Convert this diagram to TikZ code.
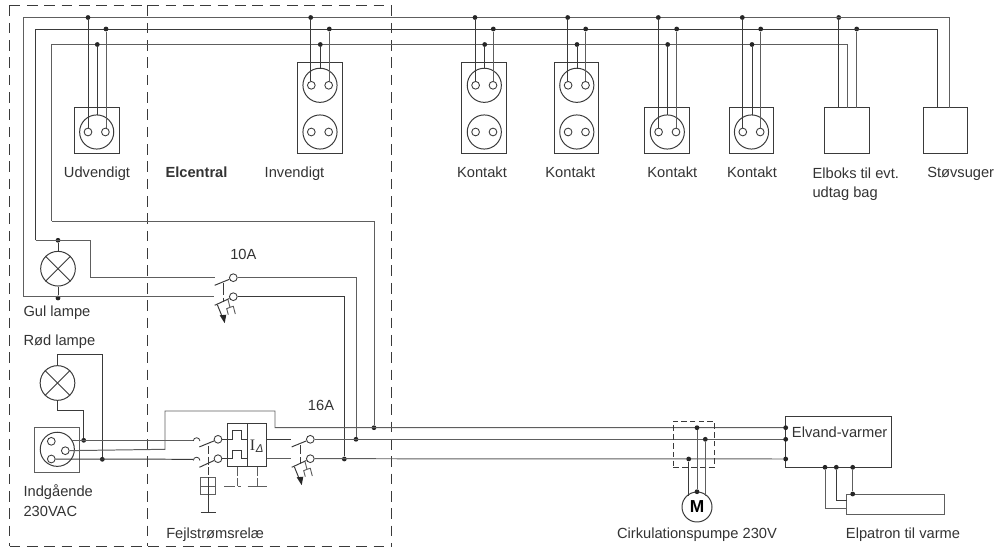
\documentclass[tikz,border=0pt]{standalone}
\usepackage{fontspec}
\setmainfont{Liberation Sans}
\definecolor{wa}{HTML}{3A3A3A}
\definecolor{wb}{HTML}{5E5E5E}
\definecolor{txt}{HTML}{333333}
\tikzset{
  wire/.style={line width=.74pt,color=wa,line join=miter},
  gwire/.style={line width=.74pt,color=wb,line join=miter},
  dot/.style={circle,fill=black!85,inner sep=0pt,minimum size=3.6pt},
  hole/.style={circle,draw=wa,fill=white,line width=.65pt,inner sep=0pt,minimum size=5.8pt},
  face/.style={circle,draw=wa,fill=none,line width=.74pt,inner sep=0pt,minimum size=25.6pt},
  lamp/.style={circle,draw=wa,fill=white,line width=.74pt,inner sep=0pt,minimum size=26pt},
  boxa/.style={draw=wa,line width=.74pt,inner sep=0pt,minimum width=33.5pt,minimum height=34.3pt},
  boxb/.style={draw=wa,line width=.74pt,inner sep=0pt,minimum width=33.5pt,minimum height=68.5pt},
  lbl/.style={font=\fontsize{11}{13}\selectfont,text=txt,inner sep=0pt,anchor=mid west},
  ctr/.style={font=\fontsize{11}{13}\selectfont,text=txt,inner sep=0pt,anchor=mid},
  bord/.style={line width=.74pt,color=wa,dash pattern=on 8pt off 5pt},
}
% single socket: name, box centre x, wire x L, C, R
\newcommand{\sockone}[5]{%
  \node[boxa] (#1) at (#2,130.8) {};
  \node[face] (#1f) at (#2,132) {};
  \node[hole] (#1l) at ($(#1f.center)+(-8.7,0)$) {};
  \node[hole] (#1r) at ($(#1f.center)+(8.7,0)$) {};
  \node[dot] (#1a) at (#3,17.5) {};
  \node[dot] (#1b) at (#4,44.5) {};
  \node[dot] (#1c) at (#5,29) {};
  \draw[wire] (#1a) -- (#3,128);
  \draw[wire] (#1b) -- (#4,115);
  \draw[gwire] (#1c) -- (#5,128);
}
% double socket
\newcommand{\socktwo}[5]{%
  \node[boxb] (#1) at (#2,108) {};
  \node[face] (#1f) at (#2+0.3,85.3) {};
  \node[hole] (#1l) at ($(#1f.center)+(-8.7,0)$) {};
  \node[hole] (#1r) at ($(#1f.center)+(8.7,0)$) {};
  \node[face] (#1g) at (#2+0.3,132) {};
  \node[hole] (#1m) at ($(#1g.center)+(-8.7,0)$) {};
  \node[hole] (#1n) at ($(#1g.center)+(8.7,0)$) {};
  \node[dot] (#1a) at (#3,17.5) {};
  \node[dot] (#1b) at (#4,44.5) {};
  \node[dot] (#1c) at (#5,29) {};
  \draw[wire] (#1a) -- (#3,81);
  \draw[wire] (#1b) -- (#4,68.3);
  \draw[gwire] (#1c) -- (#5,81);
}
% two-pole switch: name, circle x, top y, bottom y
\newcommand{\blades}[4]{%
  \node[hole] (#1t) at (#2,#3) {};
  \node[hole] (#1u) at (#2,#4) {};
  \draw[wire] (#2-18.6,#3+7.6) -- (#1t);
  \draw[wire] (#2-18.6,#4+8.6) -- (#1u);
}
\newcommand{\trip}[2]{%
  \draw[wire] (#1-16,#2+8) -- (#1-10.3,#2+22);
  \fill[black!85] (#1-13.6,#2+18.6) -- (#1-7,#2+18) -- (#1-8.6,#2+26.5) -- cycle;
  \draw[wb,line width=.7pt] (#1-5.3,#2+3) -- (#1-3.3,#2+10.6) -- (#1,#2+9.6) -- (#1+2,#2+17.3);
  \draw[wb,line width=.7pt] (#1-3.3,#2+10.6) -- (#1-6.6,#2+12) -- (#1-5,#2+18);
}
\usetikzlibrary{calc}
\begin{document}
\begin{tikzpicture}[x=.75pt,y=-.75pt]
\useasboundingbox (0,0) rectangle (1000,549);
% enclosure
\coordinate (bTL) at (9.5,5.5); \coordinate (bTR) at (391.5,5.5);
\coordinate (bBL) at (9.5,546); \coordinate (bBR) at (391.5,546);
\draw[bord] (bTL) -- (bTR);
\draw[bord] (bTR) -- (bBR);
\draw[bord] (bTL) -- (bBL);
\draw[bord] (bBL) -- (bBR);
\coordinate (mT) at (147.5,5.5); \coordinate (mB) at (147.5,546);
\draw[bord] (mT) -- (mB);
% buses
\coordinate (st1) at (949,108); \coordinate (st2) at (937.7,108); \coordinate (el3) at (847,108);
\coordinate (gulN) at (23.5,296.7); \coordinate (gulL) at (35.5,240.3);
\node[boxa] (elb) at (846.7,130.8) {};
\node[boxa] (stv) at (945.5,130.8) {};
\node[dot] (elba) at (838.7,17.5) {};
\node[dot] (elbc) at (856.7,29) {};
\draw[gwire] (gulN) -- (23.5,17.5) -- (949,17.5) -- (st1);
\draw[wire] (gulL) -- (35.5,29) -- (937.7,29) -- (st2);
\draw[gwire] (51.5,221) -- (51.5,44.5) -- (847,44.5) -- (el3);
\draw[wire] (elba) -- (838.7,108);
\draw[gwire] (elbc) -- (856.7,108);
% sockets
\sockone{ud}{96.7}{88}{97.3}{106}
\socktwo{inv}{319.7}{310.7}{320.3}{329.3}
\socktwo{k1}{484}{475}{484.7}{493.3}
\socktwo{k2}{576.5}{567.7}{577}{585.7}
\sockone{k3}{667.3}{658.3}{667.7}{676.7}
\sockone{k4}{751.5}{742.3}{752}{760.7}
% gul lampe
\node[lamp] (gul) at (58,268.7) {};
\draw[wire] (gul.north west) -- (gul.south east);
\draw[wire] (gul.north east) -- (gul.south west);
\node[dot] (gula) at (58,240.3) {};
\node[dot] (gulb) at (58,298) {};
\draw[wire] (gula) -- (gul);
\draw[wire] (gulb) -- (gul);
% 10A switch
\blades{sa}{233.3}{277.7}{296.7}
\trip{233.3}{296.7}
\draw[gwire] (gulL) -- (90.7,240.3) -- (90.7,277.7) -- (215,277.7);
\draw[gwire] (gulN) -- (214,296.7);
\draw[wire,dash pattern=on 9pt off 2pt] (223.3,283) -- (223.3,302);
\node[dot] (d10a) at (356,439.3) {};
\node[dot] (d10b) at (344.3,459) {};
\node[dot] (d3) at (374,427.7) {};
\draw[gwire] (sat) -- (356,277.7) -- (d10a);
\draw[wire] (sau) -- (344.3,296.7) -- (d10b);
\draw[gwire] (51.5,221) -- (374,221) -- (d3);
\node[ctr] (a10) at (243.3,255.7) {10A};
% supply socket
\node[boxa,minimum width=33.7pt,minimum height=33.7pt,draw=wb] (sup) at (56.8,449.8) {};
\node[face] (supf) at (57.3,449.3) {};
\node[hole] (sup1) at (51.3,441.3) {};
\node[hole] (sup2) at (65.3,450.7) {};
\node[hole] (sup3) at (51.3,459) {};
% red lamp
\node[lamp] (red) at (57.5,383) {};
\draw[wire] (red.north west) -- (red.south east);
\draw[wire] (red.north east) -- (red.south west);
\node[dot] (rd1) at (83.7,440.3) {};
\node[dot] (rd2) at (102.3,459.3) {};
\draw[wire] (red.north) -- (57.5,354.7) -- (102.3,354.7) -- (rd2);
\draw[wire] (red.south) -- (57.5,410.3) -- (83.7,410.3) -- (rd1);
% supply lines
\draw[gwire] (72,440.3) -- (193,440.3);
\draw[wire] (sup3) -- (193,459.3);
\draw[gwire] (sup2) -- (165,449.3) -- (165,411) -- (275,411) -- (275,427.7) -- (785.7,427.7);
% hooks + RCD switch
\draw[wa,line width=.6pt] (193.3,441) arc (180:360:3.3);
\draw[wa,line width=.6pt] (193.3,460.5) arc (180:360:3.3);
\blades{rc}{218}{439.3}{458.7}
\draw[wire,dash pattern=on 6pt off 2pt] (208.3,446) -- (208.3,478);
% test button
\node[draw=wb,line width=.74pt,inner sep=0pt,minimum width=11.5pt,minimum height=12.5pt] (tst) at (208.3,486) {};
\coordinate (gnd) at (208.3,512.7);
\draw[wb,line width=.74pt] (tst.west) -- (tst.east);
\draw[wa,line width=.74pt] (tst.north) -- (gnd);
\draw[wa,line width=.74pt] (200.7,512.7) -- (216,512.7);
% RCD
\node[draw=wa,line width=.74pt,inner sep=0pt,minimum width=29.5pt,minimum height=32.5pt] (rcd) at (247,445) {};
\coordinate (rdv) at (247.3,423.3); \coordinate (rdw) at (247.3,466.7);
\draw[wa,line width=.74pt] (rdv) -- (rdw);
\draw[wire] (rct) -- (232.7,439.3) -- (232.7,430.7) -- (241.7,430.7) -- (241.7,439.3) -- (247.3,439.3);
\draw[wire] (rcu) -- (232.7,458.7) -- (232.7,450.7) -- (241.7,450.7) -- (241.7,458.7) -- (247.3,458.7);
\node[text=txt,inner sep=0pt,font=\fontsize{12}{13}\selectfont] (idelta) at (252.5,445) {\fontspec{Liberation Serif}I};
\node[text=txt,inner sep=0pt,font=\fontsize{8.5}{9}\selectfont\itshape] (idelt2) at (259.7,448.5) {Δ};
\draw[wb,line width=.74pt,dash pattern=on 7pt off 1.5pt] (237.7,466.7) -- (237.7,486);
\draw[wb,line width=.74pt,dash pattern=on 7pt off 1.5pt] (257,466.7) -- (257,486);
\draw[wb,line width=.74pt] (224.3,486) -- (234.5,486);
\draw[wb,line width=.74pt] (237.7,486) -- (241,486);
\draw[wb,line width=.74pt] (247.7,486) -- (266.7,486);
\node[ctr] (a16) at (321,407.3) {16A};
% 16A
\blades{sb}{310.3}{439.3}{458.7}
\trip{310.3}{458.7}
\draw[wa,line width=.74pt,dash pattern=on 7pt off 2pt] (300,445) -- (300,464);
\draw[wire] (266.7,439.3) -- (291,439.3);
\draw[gwire] (266.7,458.7) -- (291,458.7);
\draw[gwire] (sbt) -- (785.7,439.3);
\draw[gwire] (sbu) -- (785.7,459);
% Pump
\node[draw=wa,dash pattern=on 4.2pt off 2.4pt,line width=.74pt,inner sep=0pt,minimum width=30.5pt,minimum height=34.7pt] (pbx) at (693.7,444.2) {};
\node[circle,draw=wa,fill=white,line width=.74pt,inner sep=0pt,minimum size=22.5pt,font=\fontsize{13}{13}\selectfont\bfseries] (mot) at (697,507) {M};
\node[dot] (p1) at (697,427.7) {};
\node[dot] (p2) at (705.3,439.3) {};
\node[dot] (p3) at (688.7,459) {};
\node[dot] (p4) at (697,491.7) {};
\draw[gwire] (p1) -- (p4);
\draw[gwire] (p2) -- (705.3,495.5);
\draw[wire] (p3) -- (688.7,495.5);
% Elvand
\node[draw=wa,line width=.74pt,inner sep=0pt,minimum width=79.2pt,minimum height=38.5pt] (elv) at (838.5,441.7) {};
\node[dot] (e1) at (785.7,427.7) {};
\node[dot] (e2) at (785.7,439.3) {};
\node[dot] (e3) at (785.7,459) {};
\node[dot] (e4) at (825,467.3) {};
\node[dot] (e5) at (836.3,467.3) {};
\node[dot] (e6) at (852.7,467.3) {};
\node[draw=wb,line width=.74pt,inner sep=0pt,minimum width=73.5pt,minimum height=15pt] (elp) at (895.7,504) {};
\node[dot] (e7) at (852.7,494) {};
\draw[gwire] (e4) -- (825,508.7) -- (846.7,508.7);
\draw[wire] (e5) -- (836.3,500.7) -- (846.7,500.7);
\draw[gwire] (e6) -- (e7);
% labels
\node[ctr] (t1) at (97,174) {Udvendigt};
\node[ctr,font=\fontsize{11}{13}\selectfont\bfseries] (t2) at (196.5,174) {Elcentral};
\node[ctr] (t3) at (294.5,174) {Invendigt};
\node[ctr] (t4) at (482,174) {Kontakt};
\node[ctr] (t5) at (570.3,174) {Kontakt};
\node[ctr] (t6) at (672.3,174) {Kontakt};
\node[ctr] (t7) at (752,174) {Kontakt};
\node[lbl] (t8) at (812.3,175) {Elboks til evt.};
\node[lbl] (t9) at (812.3,194) {udtag bag};
\node[lbl] (t10) at (927,174) {Støvsuger};
\node[lbl] (t11) at (23.3,312.5) {Gul lampe};
\node[lbl] (t12) at (23.3,341.5) {Rød lampe};
\node[lbl] (t13) at (23.3,492.5) {Indgående};
\node[lbl] (t14) at (23.3,512.5) {230VAC};
\node[lbl] (t15) at (166,535) {Fejlstrømsrelæ};
\node[lbl] (t16) at (791.7,433.5) {Elvand-varmer};
\node[ctr] (t17) at (697,535) {Cirkulationspumpe 230V};
\node[lbl] (t18) at (845.7,535) {Elpatron til varme};
\end{tikzpicture}
\end{document}
